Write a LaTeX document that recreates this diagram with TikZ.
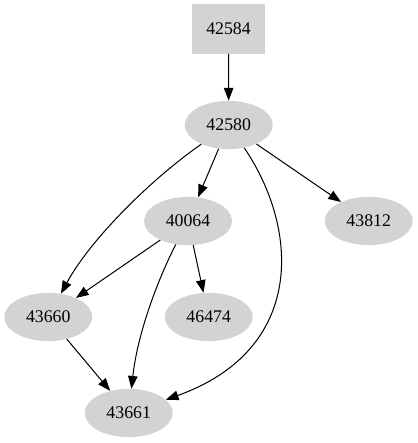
\documentclass[tikz,border=0pt]{standalone}
\usepackage{fontspec}
\setmainfont{Liberation Serif}
\usetikzlibrary{arrows.meta,shapes.geometric}
\definecolor{nodegray}{RGB}{211,211,211}
\begin{document}
\begin{tikzpicture}[x=0.7874pt,y=-0.7874pt,
  every node/.style={font=\fontsize{14pt}{16pt}\selectfont, fill=nodegray, inner sep=0pt},
  ell/.style={ellipse, minimum width=69.3pt, minimum height=38pt},
  boxnode/.style={rectangle, minimum width=57.5pt, minimum height=38.6pt},
  edge/.style={-{Triangle[length=10pt,width=7.5pt]}, line width=0.8pt}]
\useasboundingbox (0,0) rectangle (417,443);
\node[boxnode] (n42584) at (228.5,29) {42584};
\node[ell] (n42580) at (228.7,125) {42580};
\node[ell] (n40064) at (188,221) {40064};
\node[ell] (n43812) at (368.7,221) {43812};
\node[ell] (n43660) at (48.3,317) {43660};
\node[ell] (n46474) at (208.7,317) {46474};
\node[ell] (n43661) at (128.7,413) {43661};
\draw[edge] (n42584) -- (n42580);
\draw[edge] (n42580) -- (n40064);
\draw[edge] (n42580) -- (n43812);
\draw[edge] (n42580) .. controls (150,180) and (90,240) .. (n43660);
\draw[edge] (n40064) -- (n43660);
\draw[edge] (n40064) .. controls (160,275) and (138,330) .. (n43661);
\draw[edge] (n40064) -- (n46474);
\draw[edge] (n42580) .. controls (300,230) and (305,350) .. (n43661);
\draw[edge] (n43660) -- (n43661);
\end{tikzpicture}
\end{document}
